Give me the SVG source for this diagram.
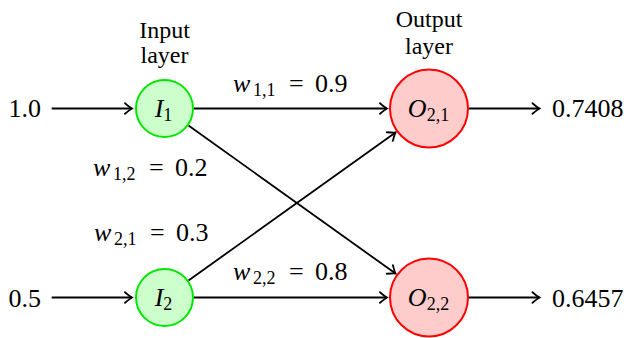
<svg xmlns="http://www.w3.org/2000/svg" width="628" height="338" viewBox="0 0 628 338">
<defs>
<style>
text{font-family:"Liberation Serif","Times New Roman","DejaVu Serif",serif;font-size:26px;fill:#000}
.it{font-style:italic}
.sub{font-size:18px;font-style:normal}
.ttl{font-size:24px}
.in{fill:#ccffcc;stroke:#00e600;stroke-width:2}
.out{fill:#ffcccc;stroke:#ff0000;stroke-width:2}
.edge{stroke:#000;stroke-width:1.8;fill:none;marker-end:url(#arr)}
</style>
<marker id="arr" markerUnits="userSpaceOnUse" viewBox="-9 -7 11 14" markerWidth="11" markerHeight="14" refX="0" refY="0" orient="auto">
<path d="M-7,-5.3 Q-2,-1 0,0 Q-2,1 -7,5.3" fill="none" stroke="#000" stroke-width="1.8" stroke-linecap="round"/>
</marker>
</defs>
<g id="connectors">
<line class="edge" x1="51.7" y1="108.5" x2="132" y2="108.5"/>
<line class="edge" x1="51.7" y1="297.5" x2="132" y2="297.5"/>
<line class="edge" x1="194" y1="108.5" x2="387" y2="108.5"/>
<line class="edge" x1="194" y1="297.5" x2="387" y2="297.5"/>
<line class="edge" x1="188.5" y1="125.5" x2="395.5" y2="273.5"/>
<line class="edge" x1="188.5" y1="280.5" x2="395.5" y2="132.5"/>
<line class="edge" x1="469" y1="108.5" x2="539.5" y2="108.5"/>
<line class="edge" x1="469" y1="297.5" x2="539.5" y2="297.5"/>
</g>
<g id="labels">
<text class="ttl" x="164.5" y="38" text-anchor="middle">Input</text>
<text class="ttl" x="164.5" y="63" text-anchor="middle">layer</text>
<text class="ttl" x="429" y="26.5" text-anchor="middle">Output</text>
<text class="ttl" x="429" y="54" text-anchor="middle">layer</text>
<text x="8.5" y="117.3">1.0</text>
<text x="8.5" y="306.5">0.5</text>
<text x="552" y="117.3">0.7408</text>
<text x="552" y="306.5">0.6457</text>
<text y="91.7"><tspan class="it" x="233">w</tspan><tspan class="sub" x="253" dy="4">1,1</tspan><tspan x="289" dy="-4">=</tspan><tspan x="315">0.9</tspan></text>
<text y="176"><tspan class="it" x="93">w</tspan><tspan class="sub" x="113" dy="4">1,2</tspan><tspan x="149" dy="-4">=</tspan><tspan x="175">0.2</tspan></text>
<text y="241"><tspan class="it" x="94">w</tspan><tspan class="sub" x="114" dy="4">2,1</tspan><tspan x="150" dy="-4">=</tspan><tspan x="176">0.3</tspan></text>
<text y="280"><tspan class="it" x="233">w</tspan><tspan class="sub" x="253" dy="4">2,2</tspan><tspan x="289" dy="-4">=</tspan><tspan x="315">0.8</tspan></text>
</g>
<g id="I1">
<circle class="in" cx="164.5" cy="108.5" r="28.5"/>
<text x="163.5" y="117" text-anchor="middle"><tspan class="it">I</tspan><tspan class="sub" dy="4">1</tspan></text>
</g>
<g id="I2">
<circle class="in" cx="164.5" cy="297.5" r="28.5"/>
<text x="163.5" y="306" text-anchor="middle"><tspan class="it">I</tspan><tspan class="sub" dy="4">2</tspan></text>
</g>
<g id="O21">
<circle class="out" cx="429" cy="108.5" r="39"/>
<text x="428.5" y="117" text-anchor="middle"><tspan class="it">O</tspan><tspan class="sub" dy="4">2,1</tspan></text>
</g>
<g id="O22">
<circle class="out" cx="429" cy="297.5" r="39"/>
<text x="428.5" y="306" text-anchor="middle"><tspan class="it">O</tspan><tspan class="sub" dy="4">2,2</tspan></text>
</g>
</svg>
